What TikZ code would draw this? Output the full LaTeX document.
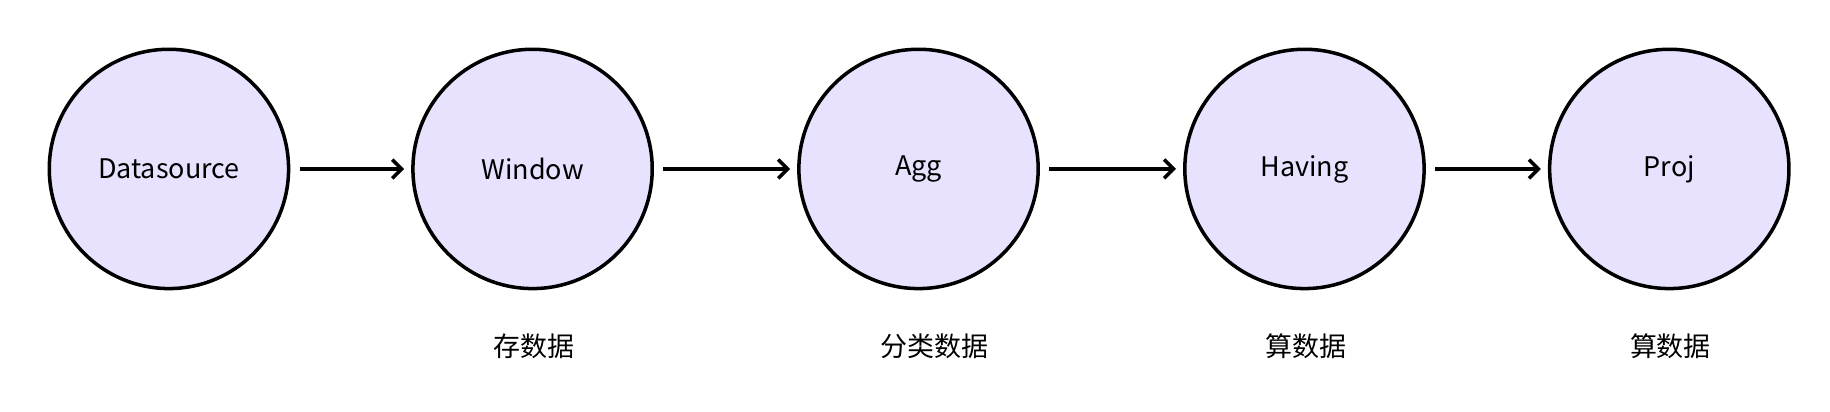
\documentclass[tikz,border=0pt]{standalone}
\usepackage{fontspec}
\setmainfont{Noto Sans CJK SC}
\usetikzlibrary{arrows.meta}
\tikzset{every picture/.style={line width=3pt}}
\tikzset{
  stage/.style={circle,draw=black,fill={rgb,255:red,232;green,226;blue,255},minimum size=204pt,inner sep=0pt,font=\fontsize{23}{28}\selectfont},
  note/.style={font=\fontsize{23}{28}\selectfont},
  flow/.style={-{Straight Barb[length=8pt,width=16pt]}}
}
\begin{document}
\begin{tikzpicture}[x=1pt,y=1pt,yscale=-1,xscale=1]
\useasboundingbox (0,0) rectangle (1560,351);

% Stages
\node[stage] (src) at (144,144) {Datasource};
\node[stage] (win) at (454,144) {Window};
\node[stage] (agg) at (783,144) {Agg};
\node[stage] (hav) at (1112,144) {Having};
\node[stage] (prj) at (1423,144) {Proj};

% Arrows
\draw[flow] ([xshift=8pt]src.east) -- ([xshift=-6pt]win.west);
\draw[flow] ([xshift=8pt]win.east) -- ([xshift=-6pt]agg.west);
\draw[flow] ([xshift=8pt]agg.east) -- ([xshift=-6pt]hav.west);
\draw[flow] ([xshift=8pt]hav.east) -- ([xshift=-6pt]prj.west);

% Notes
\node[note] (nwin) at (455,295) {存数据};
\node[note] (nagg) at (797,295) {分类数据};
\node[note] (nhav) at (1113,295) {算数据};
\node[note] (nprj) at (1424,295) {算数据};

\end{tikzpicture}
\end{document}
